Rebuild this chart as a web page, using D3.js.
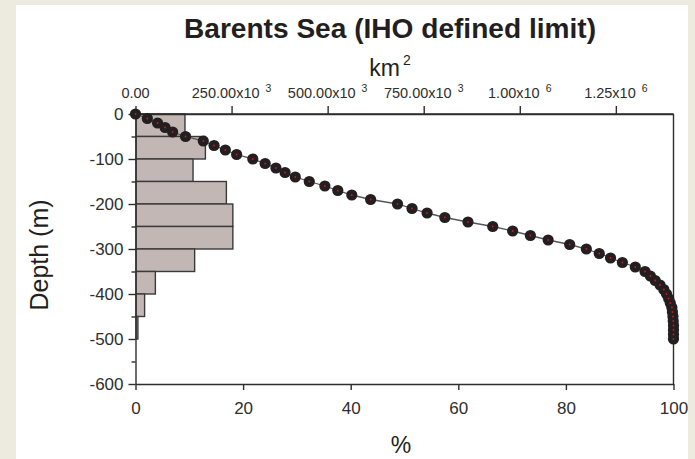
<!DOCTYPE html>
<html>
<head>
<meta charset="utf-8">
<script src="https://cdn.jsdelivr.net/npm/d3@7"></script>
<style>
  body { margin: 0; background: #edeae0; }
  svg { display: block; font-family: "Liberation Sans", Arial, sans-serif; }
</style>
</head>
<body>
<div class="canvas"></div>
<script>
// depth bins (top of each 50 m band) and share of area in %
const binTop = [0, -50, -100, -150, -200, -250, -300, -350, -400, -450];
const binPct = [9.1, 12.9, 10.6, 16.8, 18.0, 18.0, 10.9, 3.6, 1.6, 0.35];

// cumulative hypsometric curve, % of area vs depth
const curveDepth = [0, -10, -20, -30, -40, -50, -60, -70, -80, -90, -100,
  -110, -120, -130, -140, -150, -160, -170, -180, -190, -200,
  -210, -220, -230, -240, -250, -260, -270, -280, -290, -300,
  -310, -320, -330, -340, -350, -360, -370, -380, -390, -400,
  -410, -420, -430, -440, -450, -460, -470, -480, -490, -500];
const curvePct = [0, 2.2, 4.1, 5.5, 6.9, 9.3, 12.6, 14.6, 16.7, 18.8, 21.8,
  24.1, 26.1, 27.8, 29.7, 32.3, 35.2, 37.6, 40.2, 43.7, 48.7,
  51.4, 54.2, 57.5, 61.8, 66.4, 70.1, 73.4, 76.7, 80.7, 83.8,
  86.2, 88.3, 90.5, 92.9, 94.7, 95.7, 96.6, 97.5, 98.2, 98.7,
  99.1, 99.4, 99.7, 99.8, 99.9, 99.95, 100, 100, 100, 100];

const pctTicks = [0, 20, 40, 60, 80, 100];
const depthTicks = [0, -100, -200, -300, -400, -500, -600];
const depthMinor = [-50, -150, -250, -350, -450, -550];
const kmTicks = [0, 250000, 500000, 750000, 1000000, 1250000];
const kmLabels = ["0.00", "250.00x10", "500.00x10", "750.00x10", "1.00x10", "1.25x10"];
const kmExp = ["", "3", "3", "3", "6", "6"];
const kmTotal = 1400000;

const W = 695, H = 459;
const plot = { left: 135.5, right: 673.5, top: 114, bottom: 384 };
const ink = '#2e2e2e';

const svg = d3.select('.canvas').append('svg')
  .attr('width', W).attr('height', H);

// white panel on the beige page
svg.append('rect').attr('x', 16).attr('y', 5).attr('width', 672).attr('height', H - 5)
  .attr('fill', '#fff');

const x = d3.scaleLinear().domain([0, 100]).range([plot.left, plot.right]);
const xKm = d3.scaleLinear().domain([0, kmTotal]).range([plot.left, plot.right]);
const y = d3.scaleLinear().domain([0, -600]).range([plot.top, plot.bottom]);

// bars
svg.append('g').selectAll('rect')
  .data(binTop)
  .join('rect')
  .attr('x', x(0) + 0.5)
  .attr('y', d => y(d))
  .attr('width', (d, i) => x(binPct[i]) - x(0))
  .attr('height', y(-50) - y(0))
  .attr('fill', '#c3b7b5')
  .attr('stroke', '#3a3a3a')
  .attr('stroke-width', 1.4);

// box: top and right edges
svg.append('line').attr('x1', plot.left).attr('x2', plot.right)
  .attr('y1', plot.top).attr('y2', plot.top).attr('stroke', ink).attr('stroke-width', 1.4);
svg.append('line').attr('x1', plot.right).attr('x2', plot.right)
  .attr('y1', plot.top).attr('y2', plot.bottom).attr('stroke', ink).attr('stroke-width', 1.4);

// bottom axis (%)
const gx = svg.append('g').attr('transform', `translate(0,${plot.bottom})`)
  .call(d3.axisBottom(x).tickValues(pctTicks).tickSize(6).tickSizeOuter(0).tickPadding(12));
// left axis (depth), plain hyphen minus as in the source
const gy = svg.append('g').attr('transform', `translate(${plot.left},0)`)
  .call(d3.axisLeft(y).tickValues(depthTicks).tickSize(7).tickSizeOuter(0).tickPadding(5)
    .tickFormat(d => String(d)));
svg.append('g').attr('transform', `translate(${plot.left},0)`)
  .call(d3.axisLeft(y).tickValues(depthMinor).tickSize(4).tickSizeOuter(0).tickFormat(''))
  .select('.domain').remove();
// top axis (km2)
svg.append('g').attr('transform', `translate(0,${plot.top})`)
  .call(d3.axisTop(xKm).tickValues(kmTicks).tickSize(8).tickSizeOuter(0).tickFormat(''));

svg.selectAll('.domain, .tick line').attr('stroke', ink).attr('stroke-width', 1.4);
gx.selectAll('text').attr('font-size', 17).attr('fill', ink).attr('font-family', null);
gy.selectAll('text').attr('font-size', 17).attr('fill', ink).attr('font-family', null);

// top tick labels with superscript exponent
const tl = svg.append('g').selectAll('text')
  .data(kmTicks)
  .join('text')
  .attr('x', d => xKm(d))
  .attr('y', 98)
  .attr('text-anchor', 'middle')
  .attr('font-size', 14.5)
  .attr('fill', ink);
tl.append('tspan').text((d, i) => kmLabels[i]);
tl.append('tspan').attr('dx', 6).attr('dy', -6).attr('font-size', 10.5)
  .text((d, i) => kmExp[i]);

// curve
const line = d3.line().x(d => x(d[1])).y(d => y(d[0]));
const pts = curveDepth.map((d, i) => [d, curvePct[i]]);
svg.append('path').datum(pts)
  .attr('d', line).attr('fill', 'none').attr('stroke', '#555').attr('stroke-width', 1.3);
svg.append('g').selectAll('circle')
  .data(pts).join('circle')
  .attr('cx', d => x(d[1])).attr('cy', d => y(d[0])).attr('r', 5.6)
  .attr('fill', '#231f20');
svg.append('g').selectAll('circle')
  .data(pts).join('circle')
  .attr('cx', d => x(d[1])).attr('cy', d => y(d[0])).attr('r', 0.9)
  .attr('fill', '#d8141c');

// titles
svg.append('text').attr('x', 390).attr('y', 38).attr('text-anchor', 'middle')
  .attr('font-size', 28).attr('font-weight', 'bold').attr('fill', '#231f20')
  .attr('textLength', 412).attr('lengthAdjust', 'spacingAndGlyphs')
  .text('Barents Sea (IHO defined limit)');
const km = svg.append('text').attr('x', 390).attr('y', 76).attr('text-anchor', 'middle')
  .attr('font-size', 23).attr('fill', '#231f20');
km.append('tspan').text('km');
km.append('tspan').attr('dx', 3).attr('dy', -11).attr('font-size', 14).text('2');

svg.append('text').attr('x', 401).attr('y', 453).attr('text-anchor', 'middle')
  .attr('font-size', 23).attr('fill', '#231f20').text('%');
svg.append('text').attr('transform', `translate(48,255) rotate(-90)`)
  .attr('text-anchor', 'middle').attr('font-size', 25).attr('fill', '#231f20')
  .text('Depth (m)');
</script>
</body>
</html>
